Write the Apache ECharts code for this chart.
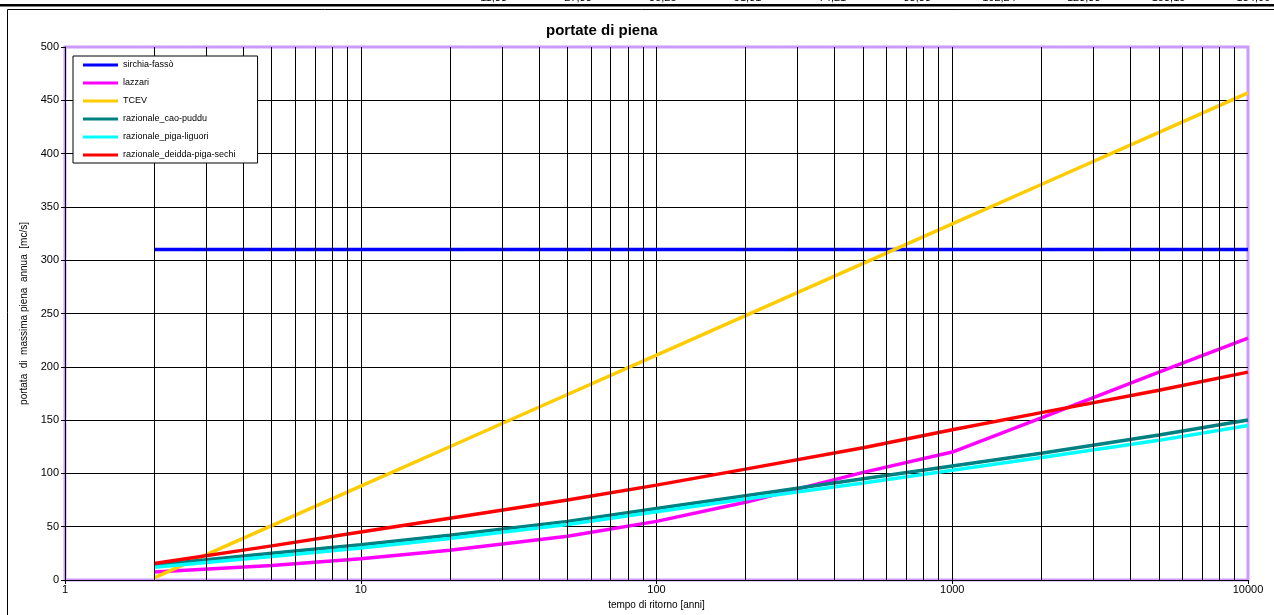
<!DOCTYPE html>
<html>
<head>
<meta charset="utf-8">
<script src="https://cdn.jsdelivr.net/npm/echarts@6/dist/echarts.min.js"></script>
<style>
  html, body { margin: 0; padding: 0; background: #fff; }
  #chart { width: 1274px; height: 615px; }
</style>
</head>
<body>
<div id="chart"></div>
<script>
// Return periods [anni]
const returnPeriods = [2, 5, 10, 20, 50, 100, 200, 500, 1000, 2000, 5000, 10000];

// Peak discharge [mc/s] for each method
const sirchiaFasso    = [310, 310, 310, 310, 310, 310, 310, 310, 310, 310, 310, 310];
const lazzari         = [7.5, 13.5, 20, 28, 41, 55, 73, 101, 120, 152, 195, 227];
const tcev            = [2, 51, 88, 125, 174, 211, 248, 297, 334, 371, 420, 457];
const caoPuddu        = [14, 25, 33, 42, 55, 67, 79, 95, 107, 119, 136, 150];
const pigaLiguori     = [12, 22, 30, 39, 52, 64, 76, 91, 103, 115, 131, 145];
const deiddaPigaSechi = [15.5, 32, 45, 58, 75, 89, 104, 124, 141, 157, 178, 195];

const seriesNames = ['sirchia-fassò', 'lazzari', 'TCEV', 'razionale_cao-puddu',
                     'razionale_piga-liguori', 'razionale_deidda-piga-sechi'];
const seriesColors = ['#0000ff', '#ff00ff', '#ffcc00', '#008080', '#00ffff', '#ff0000'];
const seriesValues = [sirchiaFasso, lazzari, tcev, caoPuddu, pigaLiguori, deiddaPigaSechi];

// Values of the table row above the chart
const tableRow = ['11,88', '27,83', '35,25', '51,31', '74,21', '88,88', '102,24', '123,88', '153,15', '184,06'];

const FONT = '"Liberation Sans", Arial, sans-serif';

// Minor log gridlines: 2..9 in every decade
const minorGrid = [];
for (let d = 1; d < 10000; d *= 10) {
  for (let k = 2; k <= 9; k++) minorGrid.push({ xAxis: k * d });
}

const dataSeries = seriesNames.map((name, i) => ({
  name: name,
  type: 'line',
  z: 3,
  symbol: 'none',
  silent: true,
  animation: false,
  lineStyle: { color: seriesColors[i], width: 3.5 },
  itemStyle: { color: seriesColors[i] },
  data: returnPeriods.map((t, j) => [t, seriesValues[i][j]])
}));

const gridSeries = {
  name: 'grid',
  type: 'line',
  z: 1,
  data: [],
  silent: true,
  animation: false,
  markLine: {
    silent: true,
    symbol: ['none', 'none'],
    label: { show: false },
    animation: false,
    lineStyle: { color: '#000', width: 1, type: 'solid' },
    emphasis: { disabled: true },
    data: minorGrid
  }
};

const topTexts = tableRow.map((s, i) => ({
  type: 'text',
  x: 507 + i * 84.8,
  y: 3,
  style: { text: s, fill: '#000', font: '11px ' + FONT, textAlign: 'right', textVerticalAlign: 'bottom' }
}));

const chart = echarts.init(document.getElementById('chart'), null, { renderer: 'canvas' });
chart.setOption({
  backgroundColor: '#fff',
  animation: false,
  title: {
    text: 'portate di piena',
    left: 546,
    top: 23,
    padding: 0,
    textStyle: { fontFamily: FONT, fontSize: 15, fontWeight: 'bold', color: '#000' }
  },
  legend: {
    data: seriesNames.map(n => ({ name: n, icon: 'rect' })),
    orient: 'vertical',
    left: 73,
    top: 56,
    padding: [2, 22, 1, 10],
    itemWidth: 35,
    itemHeight: 3,
    itemGap: 4,
    backgroundColor: '#fff',
    borderColor: '#000',
    borderWidth: 1,
    borderRadius: 0,
    selectedMode: false,
    z: 10,
    textStyle: { fontFamily: FONT, fontSize: 9, color: '#000', lineHeight: 14, height: 14, padding: [0, 0, 0, 0] }
  },
  grid: {
    left: 65, right: 26, top: 47, bottom: 35,
    show: true,
    backgroundColor: '#fff',
    borderColor: '#cc99ff',
    borderWidth: 3,
    containLabel: false
  },
  xAxis: {
    type: 'log',
    logBase: 10,
    min: 1,
    max: 10000,
    splitNumber: 4,
    name: 'tempo di ritorno [anni]',
    nameLocation: 'middle',
    nameGap: 12,
    nameTextStyle: { fontFamily: FONT, fontSize: 10, color: '#000' },
    axisLine: { show: true, onZero: false, lineStyle: { color: '#000', width: 1 } },
    axisTick: { show: true, inside: false, length: 4, lineStyle: { color: '#000' } },
    axisLabel: {
      fontFamily: FONT, fontSize: 11, color: '#000', margin: 4,
      formatter: v => String(Math.round(v))
    },
    splitLine: { show: true, showMaxLine: false, showMinLine: false, lineStyle: { color: '#000', width: 1 } },
    minorTick: { show: false },
    minorSplitLine: { show: false }
  },
  yAxis: {
    type: 'value',
    min: 0,
    max: 500,
    interval: 50,
    name: 'portata  di  massima piena  annua  [mc/s]',
    nameLocation: 'middle',
    nameGap: 29,
    nameTextStyle: { fontFamily: FONT, fontSize: 10, color: '#000' },
    axisLine: { show: true, lineStyle: { color: '#000', width: 1 } },
    axisTick: { show: true, inside: false, length: 4, lineStyle: { color: '#000' } },
    axisLabel: { fontFamily: FONT, fontSize: 11, color: '#000', margin: 6 },
    splitLine: { show: true, showMaxLine: false, showMinLine: false, lineStyle: { color: '#000', width: 1 } }
  },
  graphic: [
    // heavy rule and frame of the sheet area
    { type: 'rect', shape: { x: 0, y: 4, width: 1274, height: 2.6 }, style: { fill: '#000' }, silent: true },
    { type: 'rect', shape: { x: 7.5, y: 9.5, width: 1300, height: 700 }, style: { fill: null, stroke: '#000', lineWidth: 1 }, silent: true }
  ].concat(topTexts),
  series: [gridSeries].concat(dataSeries)
});
</script>
</body>
</html>
